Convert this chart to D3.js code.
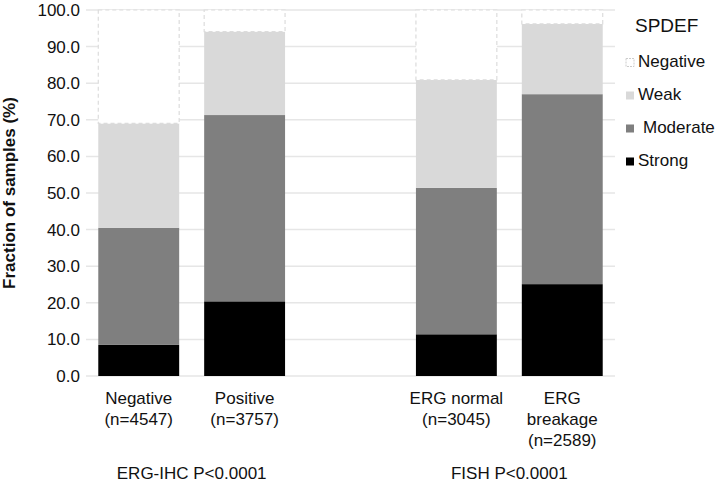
<!DOCTYPE html>
<html>
<head>
<meta charset="utf-8">
<script src="https://d3js.org/d3.v7.min.js"></script>
<style>
  body { margin: 0; background: #fff; }
  text { font-family: "Liberation Sans", Arial, sans-serif; fill: #111; }
</style>
</head>
<body>
<svg id="chart" width="718" height="484"></svg>
<script>
// groups on the x axis ("" is the empty slot between the two tests)
var groups = ["Negative", "Positive", "", "ERG normal", "ERG breakage"];
var groupLabels = [["Negative", "(n=4547)"], ["Positive", "(n=3757)"], [], ["ERG normal", "(n=3045)"], ["ERG", "breakage", "(n=2589)"]];
var tests = ["ERG-IHC P<0.0001", "FISH P<0.0001"];

// SPDEF levels, bottom to top
var levels = ["Strong", "Moderate", "Weak", "Negative"];
var strong   = [8.5, 20.4, null, 11.4, 25.1];
var moderate = [32.0, 50.9, null, 40.0, 51.9];
var weak     = [28.5, 22.8, null, 29.5, 19.2];
var negative = [31.0, 5.9, null, 19.1, 3.8];
var yTicks = [0, 10, 20, 30, 40, 50, 60, 70, 80, 90, 100];

var colors = {Strong: "#000000", Moderate: "#7f7f7f", Weak: "#d9d9d9", Negative: "#ffffff"};

var svg = d3.select("svg#chart");

var x = d3.scaleBand()
          .domain(groups)
          .range([86, 615])
          .paddingInner(0.236)
          .paddingOuter(0.116);

var y = d3.scaleLinear()
          .domain([0, 100])
          .range([376, 10]);

// grid lines
svg.append("g")
   .selectAll("line")
   .data(yTicks)
   .enter().append("line")
   .attr("x1", 86)
   .attr("x2", 615)
   .attr("y1", d => y(d))
   .attr("y2", d => y(d))
   .attr("stroke", "#e6e6e6")
   .attr("stroke-width", 1.5);

// y axis (labels only)
var yAxis = svg.append("g")
               .attr("transform", "translate(86,0)")
               .call(d3.axisLeft(y).tickValues(yTicks).tickFormat(d3.format(".1f")).tickSize(0).tickPadding(6));
yAxis.select(".domain").remove();
yAxis.selectAll("text")
     .style("font-size", "17px")
     .style("font-family", "'Liberation Sans', Arial, sans-serif")
     .attr("fill", "#111");

svg.append("text")
   .attr("transform", "translate(15,193) rotate(-90)")
   .attr("text-anchor", "middle")
   .style("font-size", "17px")
   .style("font-weight", "bold")
   .text("Fraction of samples (%)");

// stacked bars
var table = groups.map(function (g, i) {
	return {group: g, Strong: strong[i], Moderate: moderate[i], Weak: weak[i], Negative: negative[i]};
}).filter(d => d.group !== "");

var stacked = d3.stack().keys(levels)(table);

svg.append("g")
   .selectAll("g")
   .data(stacked)
   .enter().append("g")
   .attr("fill", d => colors[d.key])
   .each(function (layer) {
		var dashed = layer.key === "Negative";
		d3.select(this).selectAll("rect")
		  .data(layer)
		  .enter().append("rect")
		  .attr("x", d => x(d.data.group))
		  .attr("width", x.bandwidth())
		  .attr("y", d => y(d[1]))
		  .attr("height", d => y(d[0]) - y(d[1]))
		  .attr("stroke", dashed ? "#dcdcdc" : "none")
		  .attr("stroke-width", dashed ? 1.2 : 0)
		  .attr("stroke-dasharray", dashed ? "4,3" : null);
	});

// x labels
groups.forEach(function (g, i) {
	var lines = groupLabels[i];
	lines.forEach(function (t, j) {
		svg.append("text")
		   .attr("x", x(g) + x.bandwidth() / 2)
		   .attr("y", 404 + j * 21)
		   .attr("text-anchor", "middle")
		   .style("font-size", "17px")
		   .text(t);
	});
});

// test titles centred under each pair
[[groups[0], groups[1]], [groups[3], groups[4]]].forEach(function (pair, i) {
	var cx = (x(pair[0]) + x(pair[1]) + x.bandwidth()) / 2;
	svg.append("text")
	   .attr("x", cx)
	   .attr("y", 479)
	   .attr("text-anchor", "middle")
	   .style("font-size", "17px")
	   .text(tests[i]);
});

// legend
svg.append("text")
   .attr("x", 635)
   .attr("y", 32)
   .style("font-size", "19px")
   .text("SPDEF");

var legendOrder = ["Negative", "Weak", "Moderate", "Strong"];
legendOrder.forEach(function (k, i) {
	var by = 67 + i * 33;
	svg.append("rect")
	   .attr("x", 626)
	   .attr("y", by - 8.5)
	   .attr("width", 8)
	   .attr("height", 8)
	   .attr("fill", colors[k])
	   .attr("stroke", k === "Negative" ? "#cccccc" : "none")
	   .attr("stroke-dasharray", k === "Negative" ? "2,1" : null);
	svg.append("text")
	   .attr("x", k === "Moderate" ? 643 : 638)
	   .attr("y", by)
	   .style("font-size", "17px")
	   .text(k);
});
</script>
</body>
</html>
